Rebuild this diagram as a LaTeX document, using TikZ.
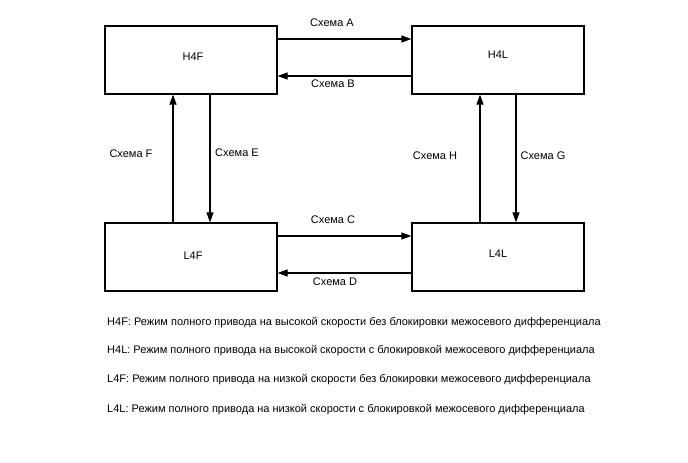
\documentclass[tikz,border=0pt]{standalone}
\usepackage{fontspec}
\setmainfont{Liberation Sans}
\usetikzlibrary{arrows.meta}
\begin{document}
\begin{tikzpicture}[x=1pt,y=-1pt,
  box/.style={draw,line width=1.2pt,minimum width=172pt,minimum height=68pt,inner sep=0pt,font=\fontsize{11}{13}\selectfont},
  arr/.style={line width=1.2pt,-{Triangle[length=10pt,width=7pt]}},
  lbl/.style={inner sep=0pt,font=\fontsize{11}{13}\selectfont},
  txt/.style={inner sep=0pt,font=\fontsize{11}{13}\selectfont},
  leg/.style={anchor=west,inner sep=0pt,font=\fontsize{11}{13}\selectfont}]
\useasboundingbox[fill=white] (0,0) rectangle (688,463);
\node[box] (H4F) at (191,60) {};
\node[box] (H4L) at (498,60) {};
\node[box] (L4F) at (191,257) {};
\node[box] (L4L) at (498,257) {};
\node[txt] (tH4F) at (193,57) {H4F};
\node[txt] (tH4L) at (498,55) {H4L};
\node[txt] (tL4F) at (193,256) {L4F};
\node[txt] (tL4L) at (498,254) {L4L};
\draw[arr] ([yshift=21pt]H4F.east) -- ([yshift=21pt]H4L.west);
\draw[arr] ([yshift=-16pt]H4L.west) -- ([yshift=-16pt]H4F.east);
\draw[arr] ([yshift=21pt]L4F.east) -- ([yshift=21pt]L4L.west);
\draw[arr] ([yshift=-16pt]L4L.west) -- ([yshift=-16pt]L4F.east);
\draw[arr] ([xshift=-18pt]L4F.north) -- ([xshift=-18pt]H4F.south);
\draw[arr] ([xshift=19pt]H4F.south) -- ([xshift=19pt]L4F.north);
\draw[arr] ([xshift=-18pt]L4L.north) -- ([xshift=-18pt]H4L.south);
\draw[arr] ([xshift=18pt]H4L.south) -- ([xshift=18pt]L4L.north);
\node[lbl] (la) at (332,23) {Схема A};
\node[lbl] (lb) at (333,84) {Схема B};
\node[lbl] (lc) at (333,220) {Схема C};
\node[lbl] (ld) at (335,282) {Схема D};
\node[lbl] (lf) at (131,154) {Схема F};
\node[lbl] (le) at (237,153) {Схема E};
\node[lbl] (lh) at (435,156) {Схема H};
\node[lbl] (lg) at (543,156) {Схема G};
\node[leg] (g1) at (107,323) {H4F: Режим полного привода на высокой скорости без блокировки межосевого дифференциала};
\node[leg] (g2) at (107,351) {H4L: Режим полного привода на высокой скорости с блокировкой межосевого дифференциала};
\node[leg] (g3) at (107,380) {L4F: Режим полного привода на низкой скорости без блокировки межосевого дифференциала};
\node[leg] (g4) at (107,410) {L4L: Режим полного привода на низкой скорости с блокировкой межосевого дифференциала};
\end{tikzpicture}
\end{document}
